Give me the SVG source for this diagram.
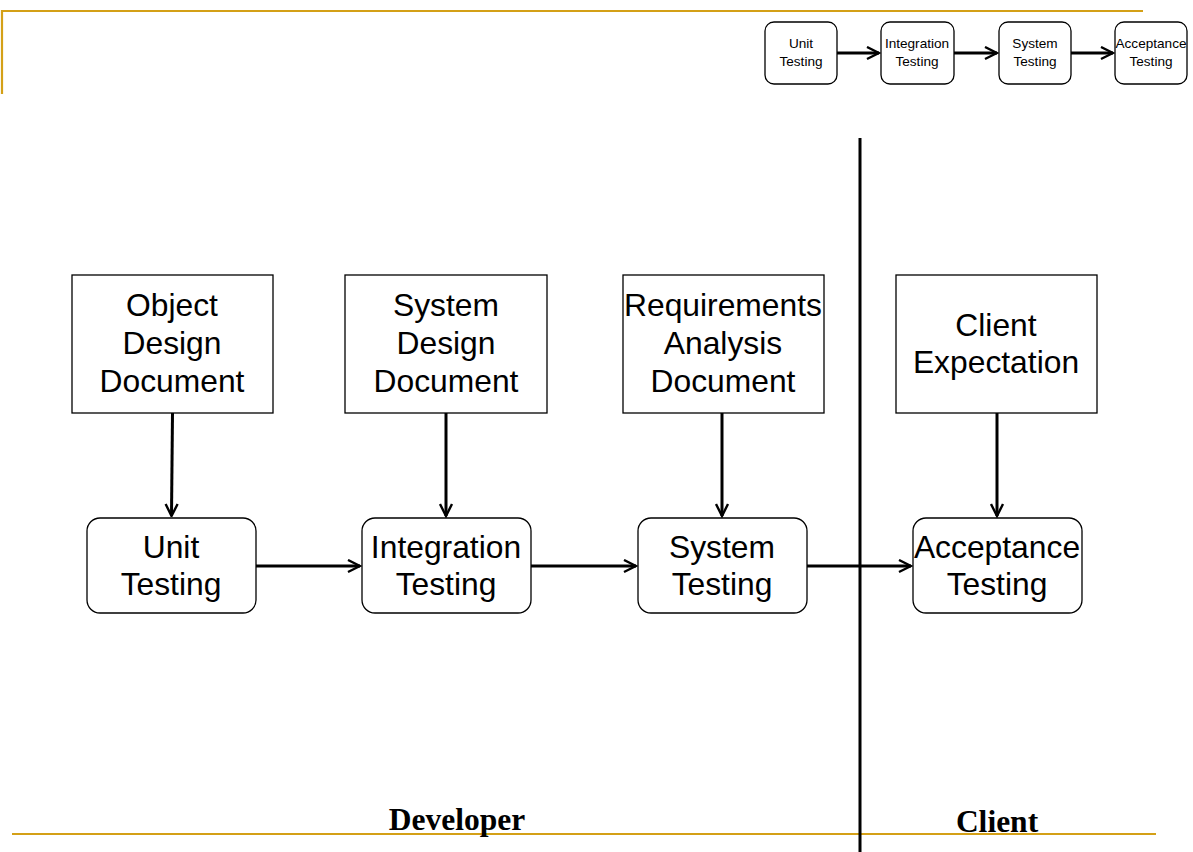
<svg xmlns="http://www.w3.org/2000/svg" width="1193" height="852" viewBox="0 0 1193 852">
  <style>
    .frame { stroke: #D4A017; stroke-width: 2.2; fill: none; }
    .box { fill: #fff; stroke: #000; stroke-width: 1.3; }
    .big { font-family: "Liberation Sans", Arial, sans-serif; font-size: 31.8px; fill: #000; text-anchor: middle; }
    .small { font-family: "Liberation Sans", Arial, sans-serif; font-size: 13.6px; fill: #000; text-anchor: middle; }
    .edge { stroke: #000; stroke-width: 3; fill: none; }
    .label { font-family: "Liberation Serif", "Times New Roman", serif; font-weight: bold; font-size: 31.5px; fill: #000; text-anchor: middle; }
  </style>
  <defs>
    <marker id="arrow" viewBox="0 0 10 10" refX="9" refY="5" markerWidth="5" markerHeight="5" orient="auto" markerUnits="strokeWidth">
      <path d="M1,1 L9,5 L1,9" fill="none" stroke="#000" stroke-width="1.6"/>
    </marker>
  </defs>

  <rect width="1193" height="852" fill="#fff"/>

  <!-- page frame lines -->
  <g id="frame">
    <path class="frame" d="M2,94 V11 H1143"/>
    <line class="frame" x1="12" y1="834" x2="1156" y2="834"/>
  </g>

  <!-- developer / client divider -->
  <line x1="860" y1="138" x2="860" y2="852" stroke="#000" stroke-width="3"/>

  <!-- small overview chain -->
  <g id="mini-unit">
    <rect class="box" x="765" y="22" width="72" height="62" rx="9"/>
    <text class="small" x="801" y="48">Unit</text>
    <text class="small" x="801" y="66">Testing</text>
  </g>
  <g id="mini-integration">
    <rect class="box" x="881" y="22" width="73" height="62" rx="9"/>
    <text class="small" x="917" y="48">Integration</text>
    <text class="small" x="917" y="66">Testing</text>
  </g>
  <g id="mini-system">
    <rect class="box" x="999" y="22" width="72" height="62" rx="9"/>
    <text class="small" x="1035" y="48">System</text>
    <text class="small" x="1035" y="66">Testing</text>
  </g>
  <g id="mini-acceptance">
    <rect class="box" x="1115" y="22" width="72" height="62" rx="9"/>
    <text class="small" x="1151" y="48">Acceptance</text>
    <text class="small" x="1151" y="66">Testing</text>
  </g>

  <!-- document boxes -->
  <g id="object-design">
    <rect class="box" x="72" y="275" width="201" height="138"/>
    <text class="big" x="172" y="316">Object</text>
    <text class="big" x="172" y="354">Design</text>
    <text class="big" x="172" y="392">Document</text>
  </g>
  <g id="system-design">
    <rect class="box" x="345" y="275" width="202" height="138"/>
    <text class="big" x="446" y="316">System</text>
    <text class="big" x="446" y="354">Design</text>
    <text class="big" x="446" y="392">Document</text>
  </g>
  <g id="requirements">
    <rect class="box" x="623" y="275" width="201" height="138"/>
    <text class="big" x="723" y="316">Requirements</text>
    <text class="big" x="723" y="354">Analysis</text>
    <text class="big" x="723" y="392">Document</text>
  </g>
  <g id="client-expectation">
    <rect class="box" x="896" y="275" width="201" height="138"/>
    <text class="big" x="996" y="336">Client</text>
    <text class="big" x="996" y="373">Expectation</text>
  </g>

  <!-- testing stages -->
  <g id="unit-testing">
    <rect class="box" x="87" y="518" width="169" height="95" rx="13"/>
    <text class="big" x="171" y="558">Unit</text>
    <text class="big" x="171" y="595">Testing</text>
  </g>
  <g id="integration-testing">
    <rect class="box" x="362" y="518" width="169" height="95" rx="13"/>
    <text class="big" x="446" y="558">Integration</text>
    <text class="big" x="446" y="595">Testing</text>
  </g>
  <g id="system-testing">
    <rect class="box" x="638" y="518" width="169" height="95" rx="13"/>
    <text class="big" x="722" y="558">System</text>
    <text class="big" x="722" y="595">Testing</text>
  </g>
  <g id="acceptance-testing">
    <rect class="box" x="913" y="518" width="169" height="95" rx="13"/>
    <text class="big" x="997" y="558">Acceptance</text>
    <text class="big" x="997" y="595">Testing</text>
  </g>

  <!-- connectors -->
  <g id="connectors">
    <line class="edge" x1="837" y1="53" x2="879" y2="53" marker-end="url(#arrow)"/>
    <line class="edge" x1="954" y1="53" x2="997" y2="53" marker-end="url(#arrow)"/>
    <line class="edge" x1="1071" y1="53" x2="1113" y2="53" marker-end="url(#arrow)"/>

    <line class="edge" x1="172.5" y1="413" x2="171.5" y2="516" marker-end="url(#arrow)"/>
    <line class="edge" x1="446" y1="413" x2="446" y2="516" marker-end="url(#arrow)"/>
    <line class="edge" x1="722" y1="413" x2="722" y2="516" marker-end="url(#arrow)"/>
    <line class="edge" x1="997" y1="413" x2="997" y2="516" marker-end="url(#arrow)"/>

    <line class="edge" x1="256" y1="566" x2="360" y2="566" marker-end="url(#arrow)"/>
    <line class="edge" x1="531" y1="566" x2="636" y2="566" marker-end="url(#arrow)"/>
    <line class="edge" x1="807" y1="566" x2="911" y2="566" marker-end="url(#arrow)"/>
  </g>

  <!-- side labels -->
  <text class="label" x="457" y="830">Developer</text>
  <text class="label" x="997" y="832">Client</text>
</svg>
